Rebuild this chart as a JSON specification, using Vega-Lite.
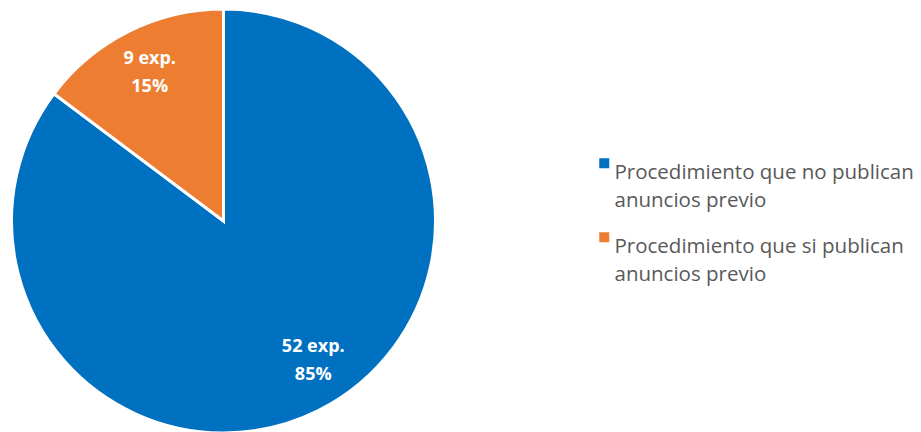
{
  "$schema": "https://vega.github.io/schema/vega-lite/v6.json",
  "width": 447,
  "height": 442,
  "padding": 0,
  "background": "white",
  "config": {"view": {"stroke": null}, "font": "Open Sans", "style": {"guide-label": {"lineHeight": 28}}},
  "data": {"values": [
    {"categoria": "Procedimiento que no publican anuncios previo", "expedientes": 52, "exp": "52 exp.", "pct": "85%"},
    {"categoria": "Procedimiento que si publican anuncios previo", "expedientes": 9, "exp": "9 exp.", "pct": "15%"}
  ]},
  "encoding": {
    "theta": {"field": "expedientes", "type": "quantitative", "stack": true},
    "order": {"field": "expedientes", "type": "quantitative", "sort": "descending"},
    "color": {
      "field": "categoria",
      "type": "nominal",
      "sort": ["Procedimiento que no publican anuncios previo", "Procedimiento que si publican anuncios previo"],
      "scale": {"domain": ["Procedimiento que no publican anuncios previo", "Procedimiento que si publican anuncios previo"], "range": ["#0070C0", "#ED7D31"]},
      "legend": {
        "title": null,
        "orient": "none",
        "legendX": 594,
        "legendY": 153,
        "symbolType": "square",
        "symbolSize": 100,
        "symbolStrokeWidth": 0,
        "labelFont": "Open Sans",
        "labelFontSize": 20.5,
        "labelColor": "#595959",
        "labelLimit": 400,
        "labelOffset": 0,
        "labelBaseline": "top",
        "rowPadding": 15,
        "labelExpr": "split(replace(datum.label, 'publican ', 'publican|'), '|')"
      }
    }
  },
  "layer": [
    {"mark": {"type": "arc", "radius": 212, "stroke": "white", "strokeWidth": 3}},
    {
      "mark": {"type": "text", "radius": 165, "dy": -14, "fontSize": 18, "fontWeight": "bold", "font": "Open Sans"},
      "encoding": {"text": {"condition": {"test": "datum.expedientes == 9", "field": "exp"}, "value": ""}, "color": {"value": "white"}}
    },
    {
      "mark": {"type": "text", "radius": 165, "dy": 14, "fontSize": 18, "fontWeight": "bold", "font": "Open Sans"},
      "encoding": {"text": {"condition": {"test": "datum.expedientes == 9", "field": "pct"}, "value": ""}, "color": {"value": "white"}}
    },
    {
      "mark": {"type": "text", "radius": 165, "dx": 16, "dy": -22, "fontSize": 18, "fontWeight": "bold", "font": "Open Sans"},
      "encoding": {"text": {"condition": {"test": "datum.expedientes == 52", "field": "exp"}, "value": ""}, "color": {"value": "white"}}
    },
    {
      "mark": {"type": "text", "radius": 165, "dx": 16, "dy": 6, "fontSize": 18, "fontWeight": "bold", "font": "Open Sans"},
      "encoding": {"text": {"condition": {"test": "datum.expedientes == 52", "field": "pct"}, "value": ""}, "color": {"value": "white"}}
    }
  ]
}
